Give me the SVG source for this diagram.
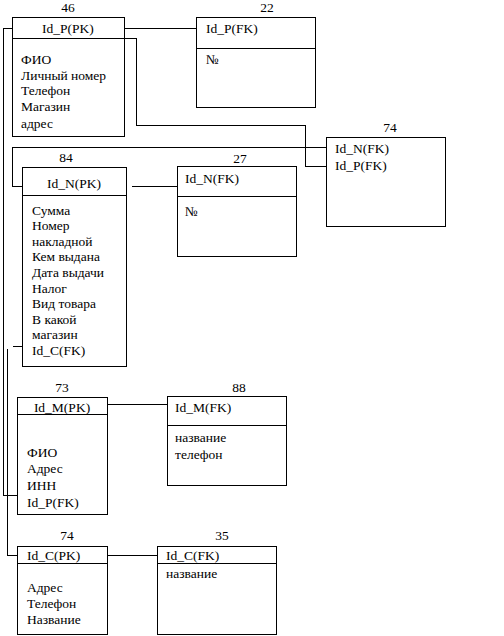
<svg xmlns="http://www.w3.org/2000/svg" width="504" height="636" viewBox="0 0 504 636">
<style>
rect,line,polyline{fill:none;stroke:#000;stroke-width:1;shape-rendering:crispEdges}
rect{fill:#fff}
text{font-family:"Liberation Serif","Times New Roman",serif;font-size:13.5px;fill:#000}
.c{text-anchor:middle}
</style>
<rect x="0" y="0" width="504" height="636" style="stroke:none"/>
<g id="connectors">
<polyline points="12.5,28.5 3.5,28.5 3.5,495.5 17.5,495.5"/>
<line x1="124.5" y1="28.5" x2="196.5" y2="28.5"/>
<polyline points="124.5,38.5 136.5,38.5 136.5,125.5 305.5,125.5 305.5,166.5 326.5,166.5"/>
<polyline points="325.5,147.5 12.5,147.5 12.5,186.5 22.5,186.5"/>
<line x1="131.5" y1="186.5" x2="177.5" y2="186.5"/>
<line x1="12.5" y1="346.5" x2="22.5" y2="346.5"/>
<polyline points="7.5,348.5 7.5,555.5 17.5,555.5"/>
<line x1="107.5" y1="404.5" x2="167.5" y2="404.5"/>
<line x1="107.5" y1="555.5" x2="157.5" y2="555.5"/>
</g>
<g id="n46">
<rect x="12.5" y="17.5" width="112" height="119"/>
<line x1="12.5" y1="38.5" x2="124.5" y2="38.5"/>
<text class="c" x="68" y="12">46</text>
<text class="c" x="68" y="33">Id_P(PK)</text>
<text x="21" y="64">ФИО</text>
<text x="21" y="80">Личный номер</text>
<text x="21" y="95">Телефон</text>
<text x="21" y="111">Магазин</text>
<text x="21" y="128">адрес</text>
</g>
<g id="n22">
<rect x="196.5" y="17.5" width="119" height="90"/>
<line x1="196.5" y1="48.5" x2="315.5" y2="48.5"/>
<text class="c" x="267" y="12">22</text>
<text x="206" y="33">Id_P(FK)</text>
<text x="206" y="64">№</text>
</g>
<g id="n74a">
<rect x="326.5" y="137.5" width="119" height="89"/>
<text class="c" x="390" y="132">74</text>
<text x="335" y="153">Id_N(FK)</text>
<text x="335" y="170">Id_P(FK)</text>
</g>
<g id="n84">
<rect x="22.5" y="167.5" width="104" height="199"/>
<line x1="22.5" y1="195.5" x2="126.5" y2="195.5"/>
<text class="c" x="66" y="162">84</text>
<text class="c" x="74" y="188">Id_N(PK)</text>
<text x="32" y="215">Сумма</text>
<text x="32" y="230">Номер</text>
<text x="32" y="246">накладной</text>
<text x="32" y="261">Кем выдана</text>
<text x="32" y="277">Дата выдачи</text>
<text x="32" y="293">Налог</text>
<text x="32" y="308">Вид товара</text>
<text x="32" y="324">В какой</text>
<text x="32" y="339">магазин</text>
<text x="32" y="355">Id_C(FK)</text>
</g>
<g id="n27">
<rect x="177.5" y="166.5" width="119" height="90"/>
<line x1="177.5" y1="196.5" x2="296.5" y2="196.5"/>
<text class="c" x="240" y="163">27</text>
<text x="185" y="183">Id_N(FK)</text>
<text x="185" y="216">№</text>
</g>
<g id="n73">
<rect x="17.5" y="397.5" width="90" height="117"/>
<line x1="17.5" y1="414.5" x2="107.5" y2="414.5"/>
<text class="c" x="62" y="392">73</text>
<text class="c" x="62" y="412">Id_M(PK)</text>
<text x="27" y="457">ФИО</text>
<text x="27" y="473">Адрес</text>
<text x="27" y="490">ИНН</text>
<text x="27" y="507">Id_P(FK)</text>
</g>
<g id="n88">
<rect x="167.5" y="396.5" width="119" height="89"/>
<line x1="167.5" y1="425.5" x2="286.5" y2="425.5"/>
<text class="c" x="239" y="392">88</text>
<text x="175" y="412">Id_M(FK)</text>
<text x="175" y="442">название</text>
<text x="175" y="459">телефон</text>
</g>
<g id="n74b">
<rect x="17.5" y="546.5" width="90" height="88"/>
<line x1="17.5" y1="563.5" x2="107.5" y2="563.5"/>
<text class="c" x="67" y="540">74</text>
<text x="27" y="560">Id_C(PK)</text>
<text x="27" y="592">Адрес</text>
<text x="27" y="608">Телефон</text>
<text x="27" y="624">Название</text>
</g>
<g id="n35">
<rect x="157.5" y="546.5" width="119" height="88"/>
<line x1="157.5" y1="563.5" x2="276.5" y2="563.5"/>
<text class="c" x="222" y="540">35</text>
<text x="166" y="560">Id_C(FK)</text>
<text x="166" y="578">название</text>
</g>
</svg>
